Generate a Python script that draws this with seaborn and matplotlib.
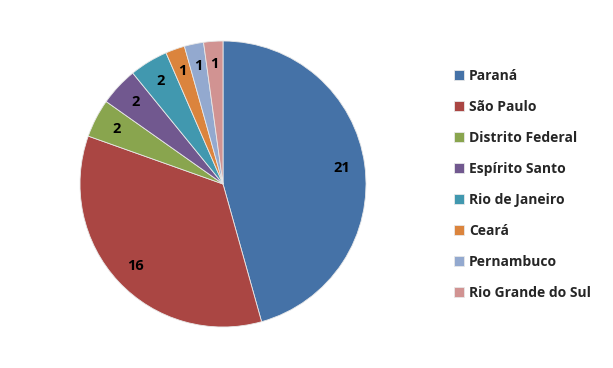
import matplotlib
matplotlib.use('Agg')
import matplotlib.pyplot as plt
import seaborn as sns

states = ['Paraná', 'São Paulo', 'Distrito Federal', 'Espírito Santo',
          'Rio de Janeiro', 'Ceará', 'Pernambuco', 'Rio Grande do Sul']
counts = [21, 16, 2, 2, 2, 1, 1, 1]
colors = ['#4572A7', '#AA4643', '#89A54E', '#71588F',
          '#4198AF', '#DB843D', '#93A9CF', '#D19392']

sns.set_style('white')
plt.rcParams['font.family'] = ['Open Sans', 'DejaVu Sans']

W, H = 613, 368
fig = plt.figure(figsize=(W / 100, H / 100), dpi=100)
cx, cy, r = 223, 184, 143
ax = fig.add_axes([(cx - r) / W, (H - cy - r) / H, 2 * r / W, 2 * r / H])

wedges, texts = ax.pie(counts, colors=colors, startangle=90, counterclock=False,
                       labels=[str(c) for c in counts], labeldistance=0.84,
                       wedgeprops={'edgecolor': '#e8e8e8', 'linewidth': 0.6},
                       textprops={'fontsize': 10.5, 'fontweight': 'bold', 'color': 'black'})
for t in texts:
    t.set_horizontalalignment('center')
    t.set_verticalalignment('center')
ax.set_xlim(-1, 1)
ax.set_ylim(-1, 1)
ax.set_aspect('equal')
ax.axis('off')

fig.legend(wedges, states, loc='upper left', bbox_to_anchor=(447 / W, 1 - 62 / H),
           frameon=False, handlelength=0.7, handleheight=0.7, handletextpad=0.4,
           labelspacing=1.22, prop={'size': 10, 'weight': 'bold'}, borderpad=0)

fig.savefig('out.png', dpi=100)
